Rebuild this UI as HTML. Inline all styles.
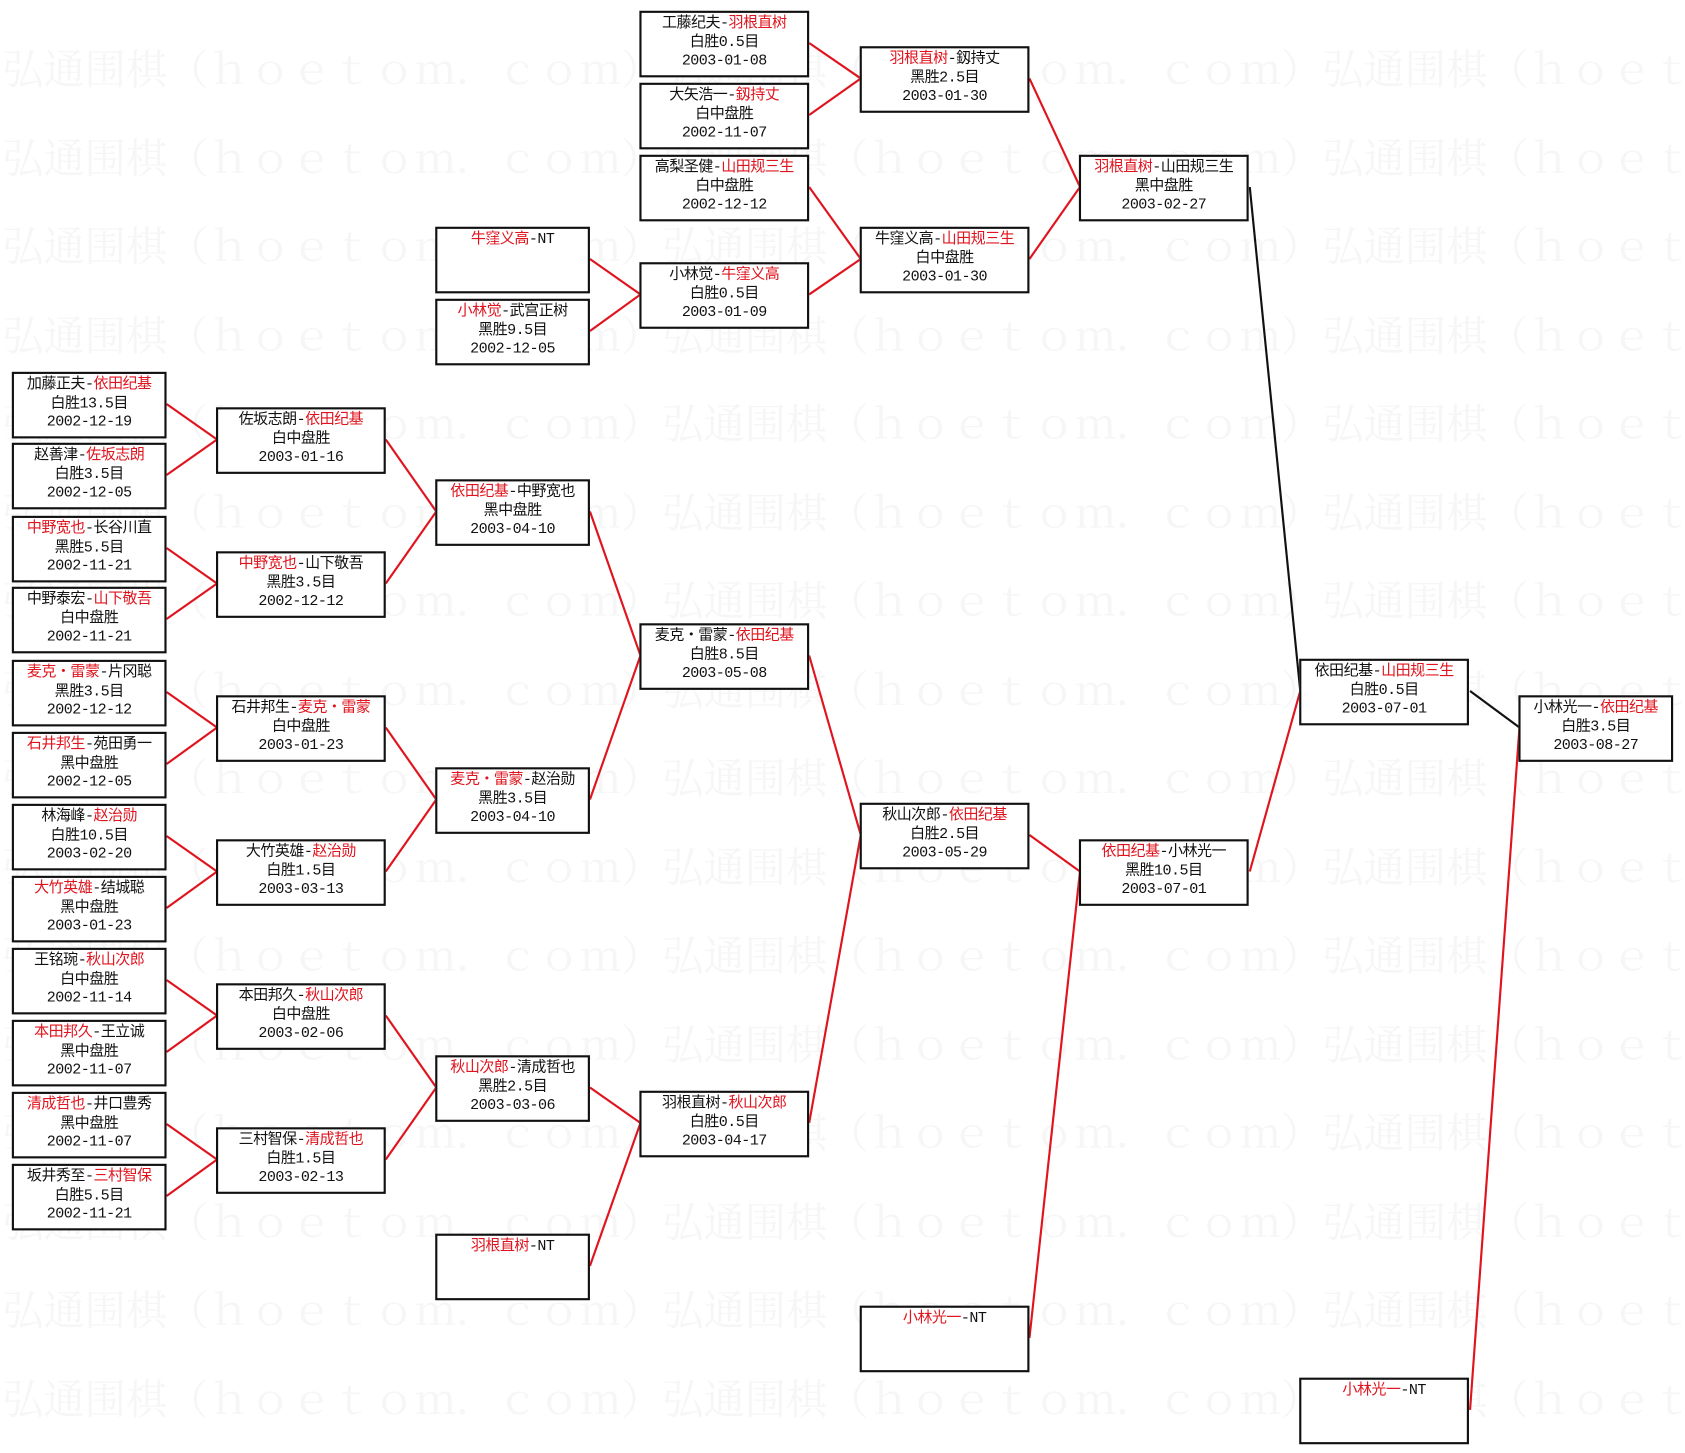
<!DOCTYPE html>
<html><head><meta charset="utf-8"><style>
html,body{margin:0;padding:0;background:#fff;width:1685px;height:1453px;overflow:hidden}
#w{position:absolute;left:0;top:0;width:1568px;height:1352px;transform:scale(1.0746);transform-origin:0 0;font-family:"Liberation Mono","Noto Sans CJK SC",monospace}
.wm{position:absolute;left:2px;white-space:nowrap;font-size:38.4px;color:#f6f6f6;font-family:"Noto Serif CJK SC","Noto Sans CJK SC",serif;line-height:48px}
.b{position:absolute;height:56px;border:2px solid #111;background:#fff;text-align:center;font-size:14px;line-height:17.5px;padding-top:2px;box-sizing:content-box;color:#111;letter-spacing:-0.5px}
.c1,.c3,.c8{width:140px}.c2,.c4,.c5,.c6,.c7{width:154px}
.c1{left:11px}.c2{left:201px}.c3{left:405px}.c4{left:595px}.c5{left:800px}.c6{left:1004px}.c7{left:1209px}.c8{left:1413px}
i{font-style:normal;color:#e0141e}
svg{position:absolute;left:0;top:0}
</style></head><body><div id="w">
<div class="wm" style="top:38px">弘通围棋（ｈｏｅｔｏｍ．ｃｏｍ）弘通围棋（ｈｏｅｔｏｍ．ｃｏｍ）弘通围棋（ｈｏｅｔｏｍ．ｃｏｍ）</div>
<div class="wm" style="top:121px">弘通围棋（ｈｏｅｔｏｍ．ｃｏｍ）弘通围棋（ｈｏｅｔｏｍ．ｃｏｍ）弘通围棋（ｈｏｅｔｏｍ．ｃｏｍ）</div>
<div class="wm" style="top:203px">弘通围棋（ｈｏｅｔｏｍ．ｃｏｍ）弘通围棋（ｈｏｅｔｏｍ．ｃｏｍ）弘通围棋（ｈｏｅｔｏｍ．ｃｏｍ）</div>
<div class="wm" style="top:286px">弘通围棋（ｈｏｅｔｏｍ．ｃｏｍ）弘通围棋（ｈｏｅｔｏｍ．ｃｏｍ）弘通围棋（ｈｏｅｔｏｍ．ｃｏｍ）</div>
<div class="wm" style="top:368px">弘通围棋（ｈｏｅｔｏｍ．ｃｏｍ）弘通围棋（ｈｏｅｔｏｍ．ｃｏｍ）弘通围棋（ｈｏｅｔｏｍ．ｃｏｍ）</div>
<div class="wm" style="top:451px">弘通围棋（ｈｏｅｔｏｍ．ｃｏｍ）弘通围棋（ｈｏｅｔｏｍ．ｃｏｍ）弘通围棋（ｈｏｅｔｏｍ．ｃｏｍ）</div>
<div class="wm" style="top:533px">弘通围棋（ｈｏｅｔｏｍ．ｃｏｍ）弘通围棋（ｈｏｅｔｏｍ．ｃｏｍ）弘通围棋（ｈｏｅｔｏｍ．ｃｏｍ）</div>
<div class="wm" style="top:616px">弘通围棋（ｈｏｅｔｏｍ．ｃｏｍ）弘通围棋（ｈｏｅｔｏｍ．ｃｏｍ）弘通围棋（ｈｏｅｔｏｍ．ｃｏｍ）</div>
<div class="wm" style="top:698px">弘通围棋（ｈｏｅｔｏｍ．ｃｏｍ）弘通围棋（ｈｏｅｔｏｍ．ｃｏｍ）弘通围棋（ｈｏｅｔｏｍ．ｃｏｍ）</div>
<div class="wm" style="top:781px">弘通围棋（ｈｏｅｔｏｍ．ｃｏｍ）弘通围棋（ｈｏｅｔｏｍ．ｃｏｍ）弘通围棋（ｈｏｅｔｏｍ．ｃｏｍ）</div>
<div class="wm" style="top:863px">弘通围棋（ｈｏｅｔｏｍ．ｃｏｍ）弘通围棋（ｈｏｅｔｏｍ．ｃｏｍ）弘通围棋（ｈｏｅｔｏｍ．ｃｏｍ）</div>
<div class="wm" style="top:946px">弘通围棋（ｈｏｅｔｏｍ．ｃｏｍ）弘通围棋（ｈｏｅｔｏｍ．ｃｏｍ）弘通围棋（ｈｏｅｔｏｍ．ｃｏｍ）</div>
<div class="wm" style="top:1028px">弘通围棋（ｈｏｅｔｏｍ．ｃｏｍ）弘通围棋（ｈｏｅｔｏｍ．ｃｏｍ）弘通围棋（ｈｏｅｔｏｍ．ｃｏｍ）</div>
<div class="wm" style="top:1111px">弘通围棋（ｈｏｅｔｏｍ．ｃｏｍ）弘通围棋（ｈｏｅｔｏｍ．ｃｏｍ）弘通围棋（ｈｏｅｔｏｍ．ｃｏｍ）</div>
<div class="wm" style="top:1193px">弘通围棋（ｈｏｅｔｏｍ．ｃｏｍ）弘通围棋（ｈｏｅｔｏｍ．ｃｏｍ）弘通围棋（ｈｏｅｔｏｍ．ｃｏｍ）</div>
<div class="wm" style="top:1276px">弘通围棋（ｈｏｅｔｏｍ．ｃｏｍ）弘通围棋（ｈｏｅｔｏｍ．ｃｏｍ）弘通围棋（ｈｏｅｔｏｍ．ｃｏｍ）</div>

<svg width="1568" height="1352" stroke-width="2" fill="none">
<g stroke="#e0141e">
<line x1="155" y1="376" x2="202" y2="409"/><line x1="155" y1="442" x2="202" y2="409"/>
<line x1="155" y1="510" x2="202" y2="543"/><line x1="155" y1="576" x2="202" y2="543"/>
<line x1="155" y1="644" x2="202" y2="677"/><line x1="155" y1="711" x2="202" y2="677"/>
<line x1="155" y1="778" x2="202" y2="811"/><line x1="155" y1="845" x2="202" y2="811"/>
<line x1="155" y1="912" x2="202" y2="945"/><line x1="155" y1="979" x2="202" y2="945"/>
<line x1="155" y1="1046" x2="202" y2="1079"/><line x1="155" y1="1113" x2="202" y2="1079"/>
<line x1="359" y1="409" x2="406" y2="476"/><line x1="359" y1="543" x2="406" y2="476"/>
<line x1="359" y1="677" x2="406" y2="744"/><line x1="359" y1="811" x2="406" y2="744"/>
<line x1="359" y1="945" x2="406" y2="1012"/><line x1="359" y1="1079" x2="406" y2="1012"/>
<line x1="549" y1="241" x2="596" y2="274"/><line x1="549" y1="308" x2="596" y2="274"/>
<line x1="549" y1="476" x2="596" y2="610"/><line x1="549" y1="744" x2="596" y2="610"/>
<line x1="549" y1="1012" x2="596" y2="1045"/><line x1="549" y1="1178" x2="596" y2="1045"/>
<line x1="753" y1="40" x2="801" y2="73"/><line x1="753" y1="107" x2="801" y2="73"/>
<line x1="753" y1="174" x2="801" y2="241"/><line x1="753" y1="274" x2="801" y2="241"/>
<line x1="753" y1="610" x2="801" y2="777"/><line x1="753" y1="1045" x2="801" y2="777"/>
<line x1="958" y1="73" x2="1005" y2="174"/><line x1="958" y1="241" x2="1005" y2="174"/>
<line x1="958" y1="777" x2="1005" y2="811"/><line x1="958" y1="1245" x2="1005" y2="811"/>
<line x1="1163" y1="811" x2="1210" y2="643"/>
<line x1="1368" y1="1312" x2="1414" y2="677"/>
</g>
<g stroke="#111">
<line x1="1163" y1="174" x2="1210" y2="643"/>
<line x1="1368" y1="643" x2="1414" y2="677"/>
</g>
</svg>

<div class="b c1" style="top:346px">加藤正夫-<i>依田纪基</i><br>白胜13.5目<br>2002-12-19</div>
<div class="b c1" style="top:412px">赵善津-<i>佐坂志朗</i><br>白胜3.5目<br>2002-12-05</div>
<div class="b c1" style="top:480px"><i>中野宽也</i>-长谷川直<br>黑胜5.5目<br>2002-11-21</div>
<div class="b c1" style="top:546px">中野泰宏-<i>山下敬吾</i><br>白中盘胜<br>2002-11-21</div>
<div class="b c1" style="top:614px"><i>麦克・雷蒙</i>-片冈聪<br>黑胜3.5目<br>2002-12-12</div>
<div class="b c1" style="top:681px"><i>石井邦生</i>-苑田勇一<br>黑中盘胜<br>2002-12-05</div>
<div class="b c1" style="top:748px">林海峰-<i>赵治勋</i><br>白胜10.5目<br>2003-02-20</div>
<div class="b c1" style="top:815px"><i>大竹英雄</i>-结城聪<br>黑中盘胜<br>2003-01-23</div>
<div class="b c1" style="top:882px">王铭琬-<i>秋山次郎</i><br>白中盘胜<br>2002-11-14</div>
<div class="b c1" style="top:949px"><i>本田邦久</i>-王立诚<br>黑中盘胜<br>2002-11-07</div>
<div class="b c1" style="top:1016px"><i>清成哲也</i>-井口豊秀<br>黑中盘胜<br>2002-11-07</div>
<div class="b c1" style="top:1083px">坂井秀至-<i>三村智保</i><br>白胜5.5目<br>2002-11-21</div>

<div class="b c2" style="top:379px">佐坂志朗-<i>依田纪基</i><br>白中盘胜<br>2003-01-16</div>
<div class="b c2" style="top:513px"><i>中野宽也</i>-山下敬吾<br>黑胜3.5目<br>2002-12-12</div>
<div class="b c2" style="top:647px">石井邦生-<i>麦克・雷蒙</i><br>白中盘胜<br>2003-01-23</div>
<div class="b c2" style="top:781px">大竹英雄-<i>赵治勋</i><br>白胜1.5目<br>2003-03-13</div>
<div class="b c2" style="top:915px">本田邦久-<i>秋山次郎</i><br>白中盘胜<br>2003-02-06</div>
<div class="b c2" style="top:1049px">三村智保-<i>清成哲也</i><br>白胜1.5目<br>2003-02-13</div>

<div class="b c3" style="top:211px"><i>牛窪义高</i>-NT</div>
<div class="b c3" style="top:278px"><i>小林觉</i>-武宫正树<br>黑胜9.5目<br>2002-12-05</div>
<div class="b c3" style="top:446px"><i>依田纪基</i>-中野宽也<br>黑中盘胜<br>2003-04-10</div>
<div class="b c3" style="top:714px"><i>麦克・雷蒙</i>-赵治勋<br>黑胜3.5目<br>2003-04-10</div>
<div class="b c3" style="top:982px"><i>秋山次郎</i>-清成哲也<br>黑胜2.5目<br>2003-03-06</div>
<div class="b c3" style="top:1148px"><i>羽根直树</i>-NT</div>

<div class="b c4" style="top:10px">工藤纪夫-<i>羽根直树</i><br>白胜0.5目<br>2003-01-08</div>
<div class="b c4" style="top:77px">大矢浩一-<i>釼持丈</i><br>白中盘胜<br>2002-11-07</div>
<div class="b c4" style="top:144px">高梨圣健-<i>山田规三生</i><br>白中盘胜<br>2002-12-12</div>
<div class="b c4" style="top:244px">小林觉-<i>牛窪义高</i><br>白胜0.5目<br>2003-01-09</div>
<div class="b c4" style="top:580px">麦克・雷蒙-<i>依田纪基</i><br>白胜8.5目<br>2003-05-08</div>
<div class="b c4" style="top:1015px">羽根直树-<i>秋山次郎</i><br>白胜0.5目<br>2003-04-17</div>

<div class="b c5" style="top:43px"><i>羽根直树</i>-釼持丈<br>黑胜2.5目<br>2003-01-30</div>
<div class="b c5" style="top:211px">牛窪义高-<i>山田规三生</i><br>白中盘胜<br>2003-01-30</div>
<div class="b c5" style="top:747px">秋山次郎-<i>依田纪基</i><br>白胜2.5目<br>2003-05-29</div>
<div class="b c5" style="top:1215px"><i>小林光一</i>-NT</div>

<div class="b c6" style="top:144px"><i>羽根直树</i>-山田规三生<br>黑中盘胜<br>2003-02-27</div>
<div class="b c6" style="top:781px"><i>依田纪基</i>-小林光一<br>黑胜10.5目<br>2003-07-01</div>

<div class="b c7" style="top:613px">依田纪基-<i>山田规三生</i><br>白胜0.5目<br>2003-07-01</div>
<div class="b c7" style="top:1282px"><i>小林光一</i>-NT</div>

<div class="b c8" style="top:647px">小林光一-<i>依田纪基</i><br>白胜3.5目<br>2003-08-27</div>
</div></body></html>
